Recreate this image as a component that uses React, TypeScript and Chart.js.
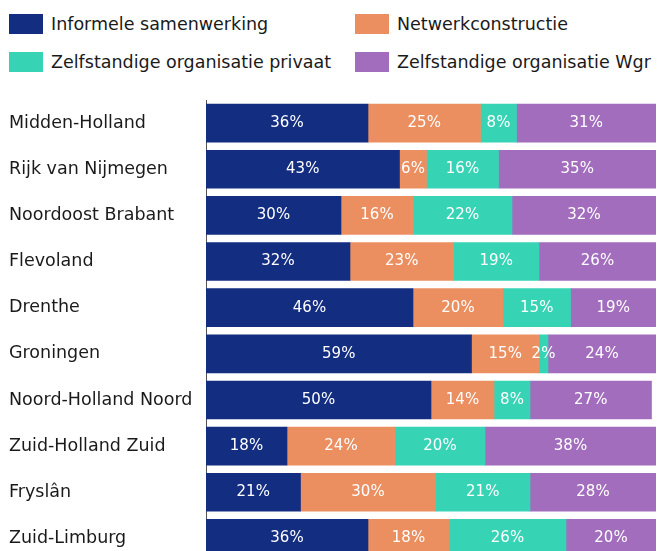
import React, { useEffect, useRef } from "react";
import { Chart, registerables } from "chart.js";

Chart.register(...registerables);

const categories = [
  "Midden-Holland",
  "Rijk van Nijmegen",
  "Noordoost Brabant",
  "Flevoland",
  "Drenthe",
  "Groningen",
  "Noord-Holland Noord",
  "Zuid-Holland Zuid",
  "Fryslân",
  "Zuid-Limburg",
];

const informele = [36, 43, 30, 32, 46, 59, 50, 18, 21, 36];
const netwerk = [25, 6, 16, 23, 20, 15, 14, 24, 30, 18];
const privaat = [8, 16, 22, 19, 15, 2, 8, 20, 21, 26];
const wgr = [31, 35, 32, 26, 19, 24, 27, 38, 28, 20];

const seriesNames = [
  "Informele samenwerking",
  "Netwerkconstructie",
  "Zelfstandige organisatie privaat",
  "Zelfstandige organisatie Wgr",
];
const colors = ["#132D80", "#EB8F61", "#37D3B5", "#A26DBD"];

const FONT = "'DejaVu Sans', sans-serif";

const valueLabels = {
  id: "valueLabels",
  afterDatasetsDraw(chart: any) {
    const ctx = chart.ctx;
    ctx.save();
    ctx.fillStyle = "#ffffff";
    ctx.font = `15px ${FONT}`;
    ctx.textAlign = "center";
    ctx.textBaseline = "middle";
    chart.data.datasets.forEach((ds: any, i: number) => {
      const meta = chart.getDatasetMeta(i);
      meta.data.forEach((el: any, j: number) => {
        const v = ds.data[j];
        const p = el.getCenterPoint();
        ctx.fillText(`${v}%`, p.x, p.y);
      });
    });
    ctx.restore();
  },
};

export default function App() {
  const ref = useRef<HTMLCanvasElement>(null);
  useEffect(() => {
    if (!ref.current) return;
    const series = [informele, netwerk, privaat, wgr];
    const chart = new Chart(ref.current, {
      type: "bar",
      data: {
        labels: categories,
        datasets: series.map((d, i) => ({
          label: seriesNames[i],
          data: d,
          backgroundColor: colors[i],
          borderWidth: 0,
          barThickness: 38,
        })),
      },
      options: {
        indexAxis: "y",
        animation: false,
        responsive: false,
        maintainAspectRatio: false,
        layout: { padding: { left: 9, right: 2, top: 100, bottom: 5 } },
        plugins: { legend: { display: false }, tooltip: { enabled: false } },
        scales: {
          x: { stacked: true, min: 0, max: 100, display: false },
          y: {
            stacked: true,
            grid: { display: false, drawTicks: false },
            border: { display: true, color: "#555555", width: 1 },
            afterFit: (axis: any) => {
              axis.width = 197;
            },
            ticks: {
              crossAlign: "far",
              color: "#1a1a1a",
              padding: 8,
              font: { family: FONT, size: 17.5 },
            },
          },
        },
      },
      plugins: [valueLabels],
    } as any);
    return () => chart.destroy();
  }, []);

  const legendPos = [
    { x: 9, y: 14 },
    { x: 355, y: 14 },
    { x: 9, y: 52 },
    { x: 355, y: 52 },
  ];

  return (
    <div
      style={{
        position: "absolute",
        left: 0,
        top: 0,
        width: 658,
        height: 551,
        overflow: "hidden",
        background: "#ffffff",
        fontFamily: FONT,
      }}
    >
      {seriesNames.map((name, i) => (
        <div
          key={name}
          style={{
            position: "absolute",
            left: legendPos[i].x,
            top: legendPos[i].y,
            height: 20,
            display: "flex",
            alignItems: "center",
            whiteSpace: "nowrap",
          }}
        >
          <span
            style={{
              display: "inline-block",
              width: 34,
              height: 20,
              background: colors[i],
              marginRight: 8,
            }}
          />
          <span style={{ fontSize: 17.5, color: "#1a1a1a" }}>{name}</span>
        </div>
      ))}
      <canvas
        ref={ref}
        width={658}
        height={580}
        style={{ position: "absolute", left: 0, top: 0 }}
      />
    </div>
  );
}
